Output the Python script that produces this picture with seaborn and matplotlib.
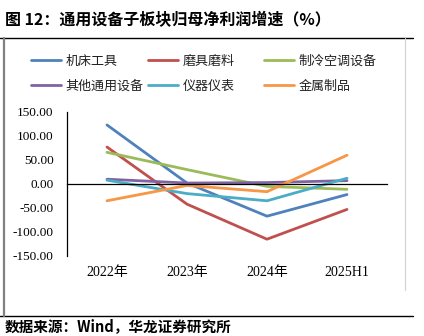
import matplotlib
matplotlib.use("Agg")
import matplotlib.pyplot as plt
from matplotlib.lines import Line2D
import matplotlib.transforms as mtrans
import seaborn as sns
import pandas as pd

categories = ["2022年", "2023年", "2024年", "2025H1"]
series_names = ["机床工具", "磨具磨料", "制冷空调设备", "其他通用设备", "仪器仪表", "金属制品"]
jichuang = [123, 2, -67, -22]
moju = [77, -42, -115, -53]
zhileng = [66, 30, -5, -11]
qita = [10, 2, 3, 7]
yiqi = [8, -20, -35, 12]
jinshu = [-35, -3, -16, 60]
yticks = [-150, -100, -50, 0, 50, 100, 150]

colors = ["#4F81BD", "#C0504D", "#9BBB59", "#8064A2", "#4BACC6", "#F79646"]

sns.set_theme(style="white")
plt.rcParams['font.family'] = ['Liberation Serif', 'Noto Sans CJK SC', 'DejaVu Sans']
plt.rcParams['ytick.labelsize'] = 9.5
plt.rcParams['xtick.labelsize'] = 10
CJK = ['Noto Sans CJK SC', 'DejaVu Sans']

rows = []
for name, vals in zip(series_names, [jichuang, moju, zhileng, qita, yiqi, jinshu]):
    for i, v in enumerate(vals):
        rows.append({"series": name, "x": i, "value": v})
df = pd.DataFrame(rows)

W, H = 424, 336
fig = plt.figure(figsize=(W / 100, H / 100), dpi=100)
ax = fig.add_axes([67 / W, (H - 256) / H, 320 / W, 144 / H])

sns.lineplot(data=df, x="x", y="value", hue="series", hue_order=series_names,
             palette=colors, linewidth=2.0, ax=ax, legend=False, sort=False)

ax.set_xlim(-0.5, len(categories) - 0.5)
ax.set_ylim(-150, 150)
ax.set_yticks(yticks)
ax.set_yticklabels([f"{v:.2f}" for v in yticks])
ax.set_xticks([i - 0.5 for i in range(len(categories) + 1)])
ax.set_xticklabels([])
ax.set_xlabel("")
ax.set_ylabel("")
for s in ["top", "right"]:
    ax.spines[s].set_visible(False)
ax.spines["bottom"].set_position(("data", 0))
for s in ["left", "bottom"]:
    ax.spines[s].set_color("black")
    ax.spines[s].set_linewidth(0.9)
ax.tick_params(axis="both", direction="out", length=3.6, width=0.9, color="black")
ax.tick_params(axis="y", labelcolor="black", pad=6)

trans = mtrans.blended_transform_factory(ax.transData, ax.transAxes)
for i, c in enumerate(categories):
    ax.text(i, -0.115, c, transform=trans, ha="center", va="center", fontsize=10,
            family=["Liberation Serif", "Noto Sans CJK SC"], color="black")

# Legend: three columns placed like the original
handles = [Line2D([0], [0], color=c, lw=2.0) for c in colors]
col_x = [31, 148, 264]
for col in range(3):
    idx = [col, col + 3]
    leg = fig.legend([handles[i] for i in idx], [series_names[i] for i in idx],
                     loc="upper left", bbox_to_anchor=(col_x[col] / W, 1 - 55 / H),
                     frameon=False, prop={"family": CJK, "size": 9.4},
                     handlelength=2.3, handletextpad=0.35,
                     labelspacing=0.9, borderpad=0, borderaxespad=0)
    for t in leg.get_texts():
        t.set_color("#222222")

# Title and frame lines
fig.text(5 / W, 1 - 20 / H, "图 12：通用设备子板块归母净利润增速（%）", fontsize=11.5,
         family=CJK, fontweight="bold", va="center", ha="left", color="black")
fig.add_artist(Line2D([0, 413 / W], [1 - 38 / H, 1 - 38 / H], color="black", lw=1.0))
fig.add_artist(Line2D([0, 413 / W], [1 - 316 / H, 1 - 316 / H], color="black", lw=1.0))
fig.add_artist(Line2D([3.5 / W, 3.5 / W], [1 - 38 / H, 1 - 316 / H], color="#808080", lw=1.6))
fig.add_artist(Line2D([405 / W, 405 / W], [1 - 38 / H, 1 - 290 / H], color="#D0D0D0", lw=0.8))
fig.text(5 / W, 1.5 / H, "数据来源：Wind，华龙证券研究所", fontsize=10.5, family=CJK,
         fontweight="bold", va="bottom", ha="left", color="black")

fig.savefig("out.png", dpi=100)
